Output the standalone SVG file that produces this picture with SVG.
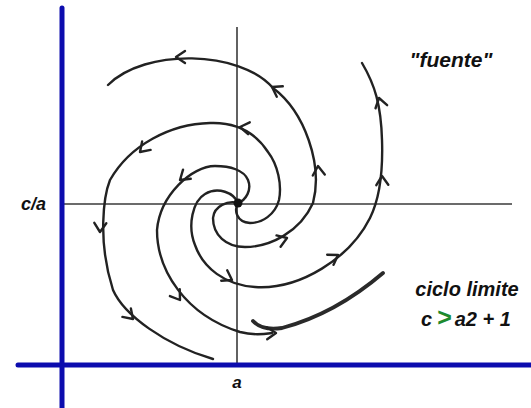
<svg xmlns="http://www.w3.org/2000/svg" xmlns:xlink="http://www.w3.org/1999/xlink" width="531" height="408" viewBox="0 0 531 408">
<style>
.blue{stroke:#0c0cae;stroke-width:5;fill:none;stroke-linecap:round}
.thin{stroke:#3a3a3a;stroke-width:1.6;fill:none}
.traj{stroke:#222;stroke-width:2.4;fill:none;stroke-linecap:round;stroke-linejoin:round}
.cycle{stroke:#2a2a2a;stroke-width:3.8;fill:none;stroke-linecap:round}
.lbl{font-family:"Liberation Sans",Arial,sans-serif;font-weight:bold;font-style:italic;fill:#111}
</style>
<defs>
<path id="arr" d="M-9,-6 L0,0 L-9,6" stroke="#222" stroke-width="2.4" fill="none" stroke-linecap="round" stroke-linejoin="round"/>
</defs>
<rect width="531" height="408" fill="#ffffff"/>
<g id="axes">
<line class="thin" x1="237" y1="27" x2="237" y2="365"/>
<line class="thin" x1="62" y1="204" x2="512" y2="204"/>
<line class="blue" x1="62" y1="8" x2="62" y2="408"/>
<line class="blue" x1="18" y1="365" x2="531" y2="365"/>
</g>
<g id="connectors">
<path id="armA" class="traj" d="M238,203 C234,193 218,186 205,194 C193,201 187,225 195,245 C203,268 225,285 255,287 C300,290 350,258 370,218 C380,198 383,170 382,140 C381,105 375,85 362,63"/>
<path id="armB" class="traj" d="M238,203 C228,200 214,206 213,218 C213,235 226,247 245,247 C270,247 300,232 313,203 C323,165 305,112 273,88 C240,50 145,48 108,85"/>
<path id="armC" class="traj" d="M238,203 C234,210 236,222 250,223 C262,223 275,215 279,200 C282,185 278,165 268,152 C255,132 235,122 210,123 C170,124 130,145 110,180 C104,195 97,240 113,290 C124,315 165,345 213,359"/>
<path id="armD" class="traj" d="M238,203 C246,200 252,190 248,180 C244,170 230,166 215,166 C192,166 160,195 157,230 C157,270 185,315 240,332 C255,336 265,334 272,333"/>
<path id="limitCycle" class="cycle" d="M253,321 Q262,331 282,328 Q335,314 383,273"/>
<circle cx="238" cy="203" r="4.5" fill="#111"/>
<use xlink:href="#arr" href="#arr" transform="translate(176,57) rotate(180)"/>
<use xlink:href="#arr" href="#arr" transform="translate(272,87) rotate(-150)"/>
<use xlink:href="#arr" href="#arr" transform="translate(318,166) rotate(-95)"/>
<use xlink:href="#arr" href="#arr" transform="translate(287,238) rotate(-20)"/>
<use xlink:href="#arr" href="#arr" transform="translate(379,98) rotate(-105)"/>
<use xlink:href="#arr" href="#arr" transform="translate(382,176) rotate(-92)"/>
<use xlink:href="#arr" href="#arr" transform="translate(338,255) rotate(-32)"/>
<use xlink:href="#arr" href="#arr" transform="translate(232,280) rotate(30)"/>
<use xlink:href="#arr" href="#arr" transform="translate(240,127) rotate(188)"/>
<use xlink:href="#arr" href="#arr" transform="translate(140,152) rotate(135)"/>
<use xlink:href="#arr" href="#arr" transform="translate(100,232) rotate(92)"/>
<use xlink:href="#arr" href="#arr" transform="translate(133,319) rotate(45)"/>
<use xlink:href="#arr" href="#arr" transform="translate(180,180) rotate(140)"/>
<use xlink:href="#arr" href="#arr" transform="translate(180,300) rotate(55)"/>
<use xlink:href="#arr" href="#arr" transform="translate(276,333) rotate(-2)"/>
</g>
<g id="labels">
<text class="lbl" x="21" y="210" font-size="18">c/a</text>
<text class="lbl" x="237" y="388" font-size="17" text-anchor="middle">a</text>
<text class="lbl" x="451" y="67" font-size="21" text-anchor="middle">"fuente"</text>
<text class="lbl" x="467" y="296" font-size="20" text-anchor="middle">ciclo limite</text>
<text class="lbl" x="421" y="326" font-size="20">c<tspan fill="#1e8a2e" font-style="normal" font-size="25" dx="5">&gt;</tspan><tspan dx="3">a2 + 1</tspan></text>
</g>
</svg>
